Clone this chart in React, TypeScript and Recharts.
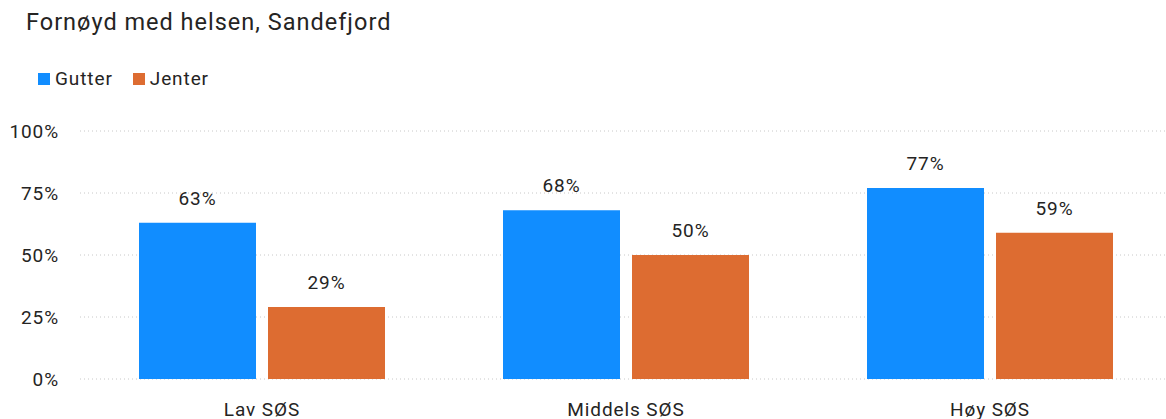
import { BarChart, Bar, XAxis, YAxis, CartesianGrid, LabelList } from 'recharts'

const categories = ['Lav SØS', 'Middels SØS', 'Høy SØS']
const gutter = [63, 68, 77]
const jenter = [29, 50, 59]
const yTicks = [0, 25, 50, 75, 100]

const BLUE = '#118DFF'
const ORANGE = '#DD6C31'
const TEXT = '#252423'
const FONT = 'Roboto, "DejaVu Sans", sans-serif'
const SPACING = '0.9px'

const data = categories.map((c, i) => ({ category: c, Gutter: gutter[i], Jenter: jenter[i] }))

const legendItems = [
  { name: 'Gutter', color: BLUE },
  { name: 'Jenter', color: ORANGE },
]

const textStyle = { fontFamily: FONT, fontSize: 19, fill: TEXT, letterSpacing: SPACING }

function ChartLegend() {
  return (
    <div
      style={{
        position: 'absolute',
        left: 38,
        top: 67,
        display: 'flex',
        alignItems: 'center',
        fontFamily: FONT,
        fontSize: 19,
        letterSpacing: SPACING,
        color: TEXT,
      }}
    >
      {legendItems.map((it) => (
        <div key={it.name} style={{ display: 'flex', alignItems: 'center', marginRight: 20 }}>
          <span style={{ width: 12, height: 12, background: it.color, display: 'inline-block', marginRight: 5 }} />
          <span>{it.name}</span>
        </div>
      ))}
    </div>
  )
}

export default function App() {
  return (
    <div style={{ position: 'absolute', left: 0, top: 0, width: 1166, height: 419, background: '#fff', overflow: 'hidden' }}>
      <div
        style={{
          position: 'absolute',
          left: 26,
          top: 8,
          fontFamily: FONT,
          fontSize: 23.5,
          letterSpacing: '1px',
          color: TEXT,
          whiteSpace: 'nowrap',
        }}
      >
        Fornøyd med helsen, Sandefjord
      </div>
      <ChartLegend />
      <BarChart
        width={1166}
        height={419}
        data={data}
        margin={{ top: 131, right: -6, bottom: 0, left: 1 }}
        barSize={117}
        barGap={12}
      >
        <CartesianGrid vertical={false} stroke="#c8c8c8" strokeDasharray="1 3" />
        <XAxis
          dataKey="category"
          axisLine={false}
          tickLine={false}
          height={40}
          tickMargin={18}
          tick={textStyle}
        />
        <YAxis
          width={79}
          domain={[0, 100]}
          ticks={yTicks}
          axisLine={false}
          tickLine={false}
          tickMargin={15}
          tickFormatter={(v) => `${v}%`}
          tick={textStyle}
        />
        <Bar dataKey="Gutter" fill={BLUE} isAnimationActive={false}>
          <LabelList
            dataKey="Gutter"
            position="top"
            offset={18}
            formatter={(v: number) => `${v}%`}
            style={textStyle}
          />
        </Bar>
        <Bar dataKey="Jenter" fill={ORANGE} isAnimationActive={false}>
          <LabelList
            dataKey="Jenter"
            position="top"
            offset={18}
            formatter={(v: number) => `${v}%`}
            style={textStyle}
          />
        </Bar>
      </BarChart>
    </div>
  )
}
